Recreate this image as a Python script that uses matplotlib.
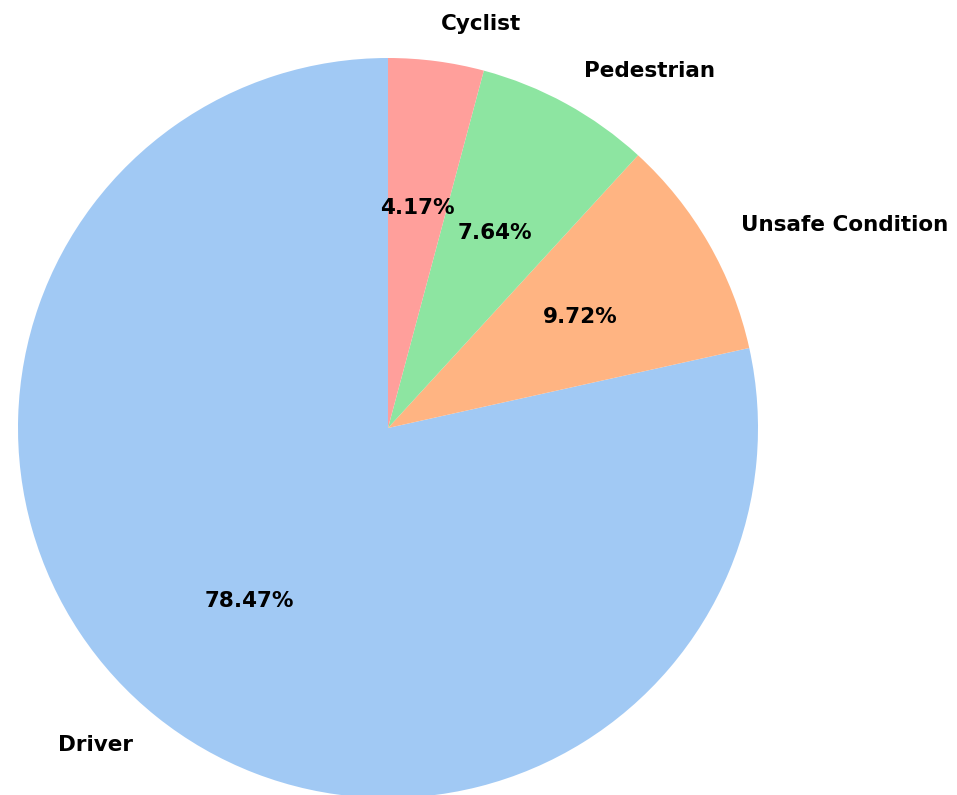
import matplotlib
matplotlib.use("Agg")
import matplotlib.pyplot as plt
import seaborn as sns

labels = ["Driver", "Unsafe Condition", "Pedestrian", "Cyclist"]
shares = [78.47, 9.72, 7.64, 4.17]

colors = sns.color_palette("pastel")[:4]

fig_w, fig_h, dpi = 957, 795, 100
fig = plt.figure(figsize=(fig_w / dpi, fig_h / dpi), dpi=dpi)

# pie centre and radius in pixels
cx, cy, r = 388, 428, 370
lim = 1.2
side = 2 * lim * r
ax = fig.add_axes([(cx - side / 2) / fig_w, ((fig_h - cy) - side / 2) / fig_h,
                   side / fig_w, side / fig_h])

ax.pie(
    shares,
    labels=labels,
    colors=colors,
    autopct="%.2f%%",
    startangle=90,
    textprops={"fontsize": 15.5, "fontweight": "bold"},
)
ax.set_xlim(-lim, lim)
ax.set_ylim(-lim, lim)
ax.set_aspect("equal")
ax.axis("off")

fig.savefig("out.png", dpi=dpi)
